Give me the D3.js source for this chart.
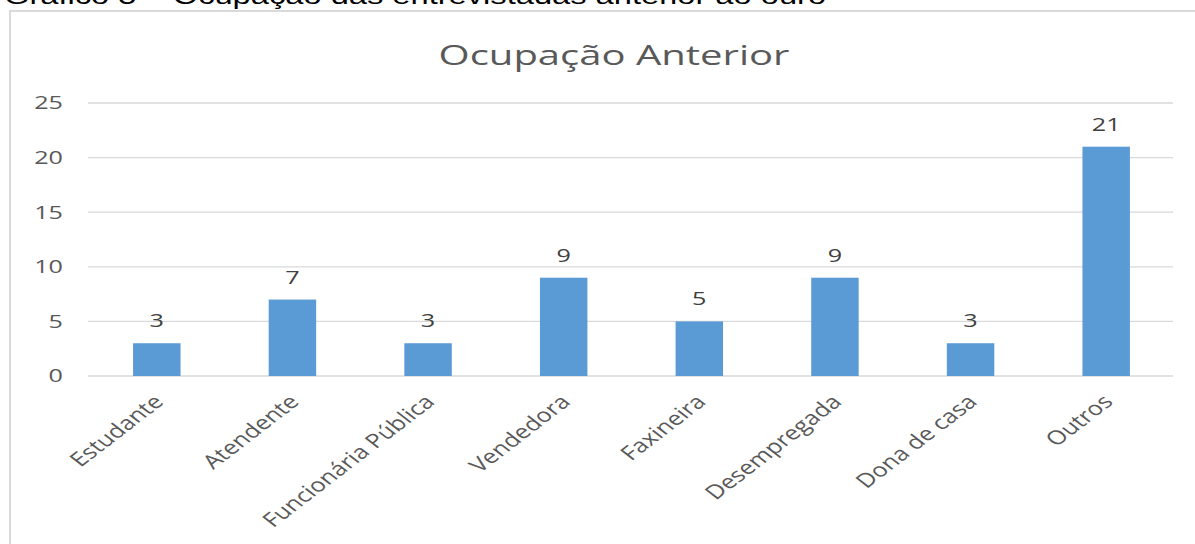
<!DOCTYPE html>
<html>
<head>
<meta charset="utf-8">
<script src="https://cdn.jsdelivr.net/npm/d3@7"></script>
<style>
  body { margin: 0; background: #fff; }
  svg { display: block; }
</style>
</head>
<body>
<svg id="chart" width="1195" height="544"></svg>
<script>
// data
const categories = ['Estudante', 'Atendente', 'Funcionária Pública', 'Vendedora', 'Faxineira', 'Desempregada', 'Dona de casa', 'Outros']
const values = [3, 7, 3, 9, 5, 9, 3, 21]
const yTicks = [0, 5, 10, 15, 20, 25]
const chartTitle = 'Ocupação Anterior'
const caption = 'Gráfico 5 – Ocupação das entrevistadas anterior ao ouro'

const svg = d3.select('#chart')
const font = '"Open Sans", sans-serif'
const sx = 1.4   // the picture is stretched sideways

// caption cut off at top of the picture
svg.append('text')
    .attr('transform', 'translate(4,4) scale(1.42,1)')
    .attr('font-family', 'Liberation Sans, Arial, sans-serif')
    .attr('font-size', 23)
    .attr('fill', '#000')
    .text(caption)

// chart frame
svg.append('rect')
    .attr('x', 10)
    .attr('y', 11)
    .attr('width', 1195)
    .attr('height', 600)
    .attr('fill', '#fff')
    .attr('stroke', '#d9d9d9')
    .attr('stroke-width', 2)

const margin = { left: 88, right: 1173, top: 103, bottom: 376 }

const x = d3.scaleBand()
    .domain(categories)
    .range([margin.left + 1, margin.right + 1])
    .paddingInner(0.65)
    .paddingOuter(0.325)

const y = d3.scaleLinear()
    .domain([0, 25])
    .range([margin.bottom, margin.top])

// grid
svg.append('g')
    .selectAll('line')
    .data(yTicks)
    .enter().append('line')
        .attr('x1', margin.left)
        .attr('x2', margin.right)
        .attr('y1', d => y(d))
        .attr('y2', d => y(d))
        .attr('stroke', '#d9d9d9')
        .attr('stroke-width', 1.3)

// y axis labels
const yAxis = svg.append('g')
    .call(d3.axisLeft(y).tickValues(yTicks).tickSize(0).tickPadding(0))
yAxis.select('.domain').remove()
yAxis.selectAll('.tick').attr('transform', d => `translate(63,${y(d)}) scale(${sx},1)`)
yAxis.selectAll('text')
    .attr('font-family', font)
    .attr('font-size', 18)
    .attr('fill', '#595959')
    .attr('x', 0)
    .attr('dy', '0.35em')

// x axis labels
const xAxis = svg.append('g')
    .call(d3.axisBottom(x).tickSize(0).tickPadding(0))
xAxis.select('.domain').remove()
xAxis.selectAll('.tick')
    .attr('transform', d => `translate(${x(d) + x.bandwidth() / 2 + 8},${margin.bottom + 27}) scale(1.3,1) rotate(-45)`)
xAxis.selectAll('text')
    .attr('font-family', font)
    .attr('font-size', 19.5)
    .attr('fill', '#595959')
    .attr('text-anchor', 'end')
    .attr('y', 0)
    .attr('dy', 0)

// bars
svg.selectAll('.bar')
    .data(values)
    .enter().append('rect')
        .attr('class', 'bar')
        .attr('x', (d, i) => x(categories[i]))
        .attr('y', d => y(d))
        .attr('width', x.bandwidth())
        .attr('height', d => y(0) - y(d))
        .attr('fill', '#5b9bd5')

// value labels
svg.selectAll('.val')
    .data(values)
    .enter().append('text')
        .attr('class', 'val')
        .attr('transform', (d, i) => `translate(${x(categories[i]) + x.bandwidth() / 2},${y(d) - 16}) scale(${sx},1)`)
        .attr('text-anchor', 'middle')
        .attr('font-family', font)
        .attr('font-size', 18)
        .attr('fill', '#404040')
        .text(d => d)

// title
svg.append('text')
    .attr('transform', `translate(614,65) scale(1.43,1)`)
    .attr('text-anchor', 'middle')
    .attr('font-family', font)
    .attr('font-size', 28)
    .attr('fill', '#595959')
    .text(chartTitle)
</script>
</body>
</html>
